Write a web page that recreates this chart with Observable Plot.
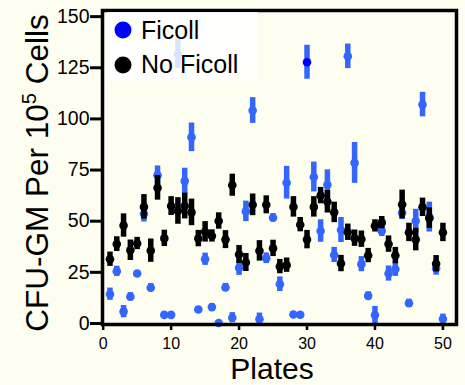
<!DOCTYPE html>
<html><head><meta charset="utf-8">
<script src="https://cdn.jsdelivr.net/npm/d3@7"></script>
<script src="https://cdn.jsdelivr.net/npm/@observablehq/plot@0.6"></script>
<style>
html,body{margin:0;padding:0;background:#fdfdf0;}
#chart{width:465px;height:385px;}
</style></head><body><div id="chart"></div>
<script>
const plates = [1,2,3,4,5,6,7,8,9,10,11,12,13,14,15,16,17,18,19,20,21,22,23,24,25,26,27,28,29,30,31,32,33,34,35,36,37,38,39,40,41,42,43,44,45,46,47,48,49,50];
const ficoll = [14.3,25.5,5.8,13.1,24.4,53.6,17.5,72.5,4.2,4.2,131.7,69.6,91,6.8,31.4,8,0.2,17.6,2.8,27.2,54.8,104.1,2.1,31.9,51.7,19.2,68.8,4.4,4.3,127.7,71.6,45.2,67.8,33.5,45.7,130.6,78.5,29,13.5,4.1,45.2,24.4,26.5,54.1,9.9,50.1,107,52,26.9,2.2];
const ficollErr = [3,2.5,3,2,1.5,4,2,4.5,1,1,7,6.3,7,1.5,3,1.5,1,2,2.5,3.7,5,6.3,3,2.6,2,3.6,8,1,1,8.3,7.3,5.5,7.3,3.7,6.1,6,10,3.7,2,4.2,2.7,3.7,3.5,3.3,2,5.7,6,7.3,3.3,2.4];
const noFicoll = [31.4,38.8,47.9,35.8,39.1,57,35.6,66.3,41.6,57.4,55,57.4,54.3,41.5,44.8,42.8,50.1,41,67.6,33.7,29.8,58,35.5,58,36.7,27.8,28.5,57,48.3,41,57,62.5,59.5,54.3,29.3,44.6,41.7,41.2,33.2,47.7,49.3,38.8,33.2,58.2,44.5,41,56.8,51.5,29.2,44.5];
const noFicollErr = [3.5,3.6,5.7,5,3,6,5.7,6,4,4.6,6.5,6.3,6.5,4,5,3,4,4.4,5.4,4.4,4.4,5.3,5,4.4,4,3.5,3.5,5,3.5,4.5,5,4,5.5,5,4,4,4,4,3.5,3,3,4,4,7,4.5,5.5,4.5,5,4,4.5];
const seriesNames = ["Ficoll", "No Ficoll"];
const pointColors = ["#3366ff", "#000000"];
const legendColors = ["#0000ff", "#000000"];
const highlightPlate = 30;
const highlightColor = "#0000ff";
const xTicks = [0,10,20,30,40,50];
const yTicks = [0,25,50,75,100,125,150];
const xTitle = "Plates";

const blueRows = plates.map((p,i)=>({plate:p, value:ficoll[i], err:ficollErr[i],
  color: pointColors[0], dotColor: p===highlightPlate ? highlightColor : pointColors[0]}));
const blackRows = plates.map((p,i)=>({plate:p, value:noFicoll[i], err:noFicollErr[i],
  color: pointColors[1], dotColor: pointColors[1]}));

const font = "'Liberation Sans', Arial, Helvetica, sans-serif";
const W = 465, H = 385;
const chart = Plot.plot({
  width: W, height: H,
  marginLeft: 102, marginTop: 10, marginRight: 9, marginBottom: 61,
  style: {background: "transparent", fontSize: "17px", fontFamily: font, color: "#000"},
  x: {domain: [-0.1, 52]},
  y: {domain: [-0.5, 153]},
  color: {type: "identity"},
  marks: [
    Plot.ruleX(blueRows, {x:"plate", y1: d=>d.value-d.err, y2: d=>d.value+d.err, stroke:"color", strokeWidth:5.5}),
    Plot.dot(blueRows, {x:"plate", y:"value", r:4.3, fill:"dotColor", stroke:null}),
    Plot.ruleX(blackRows, {x:"plate", y1: d=>d.value-d.err, y2: d=>d.value+d.err, stroke:"color", strokeWidth:5.5}),
    Plot.dot(blackRows, {x:"plate", y:"value", r:4.3, fill:"dotColor", stroke:null}),
    Plot.axisX({ticks: xTicks, tickSize: 6, tickPadding: 7, label: null, strokeWidth: 2.5, fontSize: 16, tickFormat: d=>String(d)}),
    Plot.axisY({ticks: yTicks, tickSize: 12, tickPadding: 1, label: null, strokeWidth: 3, fontSize: 19.5, tickFormat: d=>String(d)}),
    Plot.frame({strokeWidth: 3.5, stroke: "#000"})
  ]
});
document.getElementById("chart").appendChild(chart);

const svg = d3.select(chart);
// legend
const lg = svg.append("g");
lg.append("rect").attr("x",107).attr("y",12).attr("width",151).attr("height",69)
  .attr("fill","#ffffff").attr("fill-opacity",0.82);
seriesNames.forEach((name,i)=>{
  lg.append("circle").attr("cx",123).attr("cy",30+i*35).attr("r",8.5).attr("fill",legendColors[i]);
  lg.append("text").attr("x",141).attr("y",39+i*34).attr("font-size",25).attr("text-anchor","start")
    .attr("font-family",font).attr("fill","#000").text(name);
});
// x title
svg.append("text").attr("x",272).attr("y",379).attr("text-anchor","middle")
  .attr("font-size",30).attr("font-family",font).attr("fill","#000").text(xTitle);
// y title with superscript
const yt = svg.append("text").attr("transform","translate(48,173) rotate(-90)")
  .attr("text-anchor","middle").attr("font-size",31.5).attr("font-family",font).attr("fill","#000");
yt.append("tspan").text("CFU-GM Per 10");
yt.append("tspan").attr("font-size",20).attr("dy",-12.5).text("5");
yt.append("tspan").attr("dy",12.5).text(" Cells");
</script></body></html>
